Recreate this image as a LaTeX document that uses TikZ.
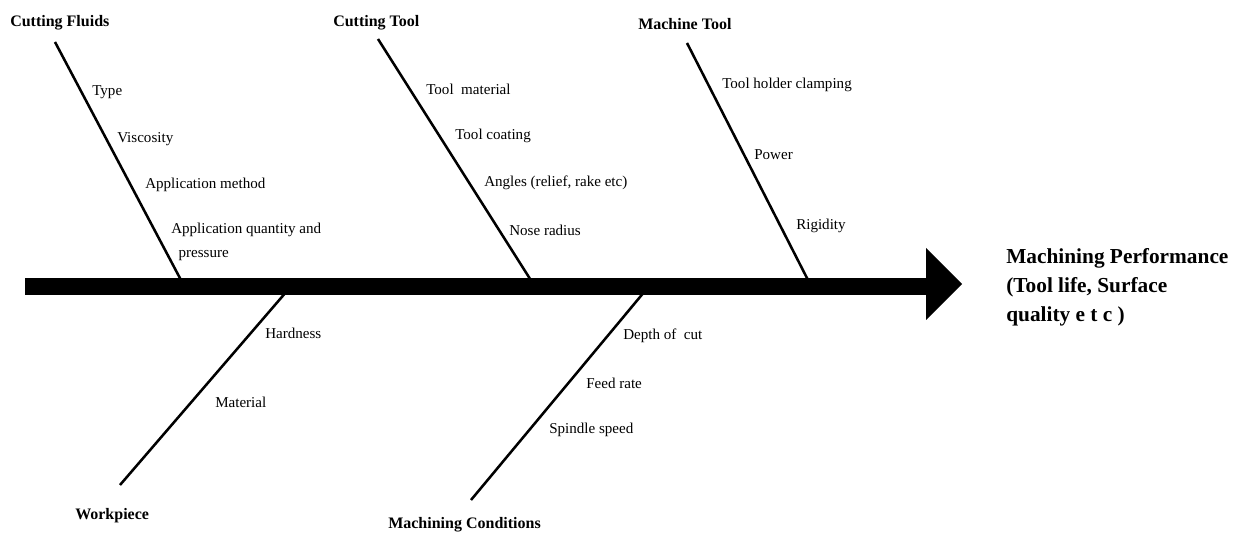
\documentclass[tikz,border=0pt]{standalone}
\usepackage{fontspec}
\setmainfont{Liberation Serif}
\begin{document}
\begin{tikzpicture}[x=0.75pt,y=-0.75pt,
  bone/.style={line width=1.9pt},
  spine/.style={line width=12.75pt},
  lbl/.style={anchor=west,inner sep=0pt,font=\fontsize{11.3}{18}\selectfont,align=left},
  head/.style={anchor=west,inner sep=0pt,font=\fontsize{12}{14}\selectfont\bfseries},
  result/.style={anchor=north west,inner sep=0pt,font=\fontsize{16}{21.75}\selectfont\bfseries,align=left}]
\useasboundingbox (0,0) rectangle (1239,534);
% spine
\coordinate (tail) at (25,286.5);
\coordinate (neck) at (926,286.5);
\draw[spine] (tail) -- (neck);
\fill (926,248) coordinate (hA) -- (962,284) coordinate (tip) -- (926,320) coordinate (hB) -- cycle;
% bones top
\coordinate (cf) at (55,42);  \coordinate (cfj) at (182,282);
\coordinate (ct) at (378,39); \coordinate (ctj) at (532,282);
\coordinate (mt) at (687,43); \coordinate (mtj) at (809,282);
% bones bottom
\coordinate (wp) at (120,485); \coordinate (wpj) at (287,291);
\coordinate (mc) at (471,500); \coordinate (mcj) at (645,291);
\draw[bone] (cf) -- (cfj);
\draw[bone] (ct) -- (ctj);
\draw[bone] (mt) -- (mtj);
\draw[bone] (wp) -- (wpj);
\draw[bone] (mc) -- (mcj);
% heads
\node[head] (hcf) at (10,22.5) {Cutting Fluids};
\node[head] (hct) at (333,22.5) {Cutting Tool};
\node[head] (hmt) at (638,24.5) {Machine Tool};
\node[head] (hwp) at (75,516) {Workpiece};
\node[head] (hmc) at (388,525) {Machining Conditions};
% cutting fluids causes
\node[lbl] (l1) at (92,92) {Type};
\node[lbl] (l2) at (117,139) {Viscosity};
\node[lbl] (l3) at (145,185) {Application method};
\node[lbl,anchor=north west] (l4) at (171,223) {Application quantity and\\\hspace{5.5pt}pressure};
% cutting tool causes
\node[lbl] (l5) at (426,89) {Tool\ \ material};
\node[lbl] (l6) at (455,136) {Tool coating};
\node[lbl] (l7) at (484,183) {Angles (relief, rake etc)};
\node[lbl] (l8) at (509,230) {Nose radius};
% machine tool causes
\node[lbl] (l9) at (722,85) {Tool holder clamping};
\node[lbl] (l10) at (754,155) {Power};
\node[lbl] (l11) at (796,226) {Rigidity};
% workpiece causes
\node[lbl] (l12) at (265,333) {Hardness};
\node[lbl] (l13) at (215,402) {Material};
% machining conditions causes
\node[lbl] (l14) at (623,336) {Depth of\ \ cut};
\node[lbl] (l15) at (586,383) {Feed rate};
\node[lbl] (l16) at (549,430) {Spindle speed};
% result
\node[result] (res) at (1006,248) {Machining Performance\\(Tool life, Surface\\quality e t c )};
\end{tikzpicture}
\end{document}
